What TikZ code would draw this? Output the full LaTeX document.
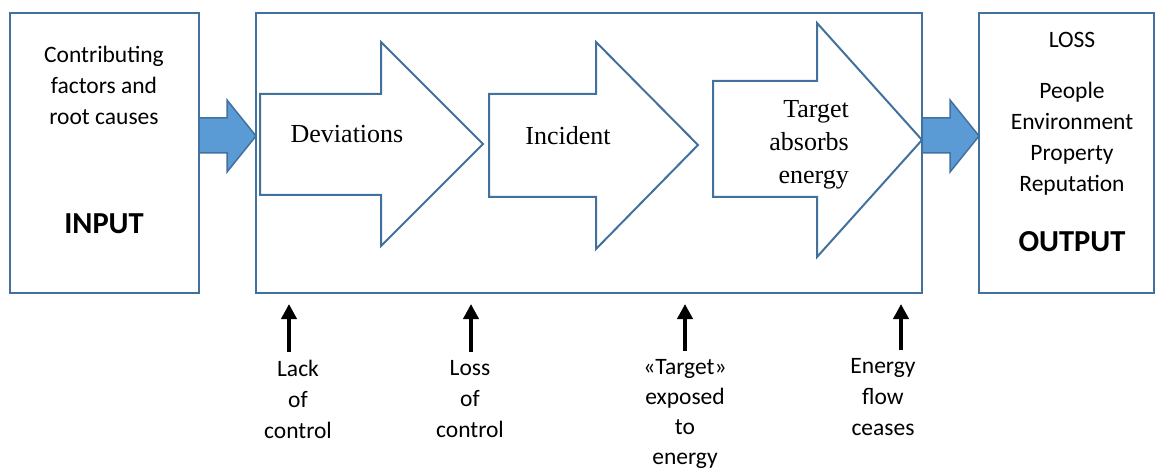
\documentclass[tikz,border=0pt]{standalone}
\usepackage{fontspec}
\setmainfont{Carlito}
\newfontfamily\serfont{Liberation Serif}
\usetikzlibrary{arrows.meta,positioning}
\definecolor{lineblue}{HTML}{41719C}
\definecolor{fillblue}{HTML}{5B9BD5}
\tikzset{
  box/.style={draw=lineblue,line width=2pt,rectangle,inner sep=0},
  blockarrow/.style={draw=lineblue,line width=2pt,fill=white,line join=miter},
  flowarrow/.style={draw=lineblue,line width=1.5pt,fill=fillblue,line join=miter},
  sanslabel/.style={font=\fontsize{23.5}{31}\selectfont,align=center,inner sep=0},
  biglabel/.style={font=\fontsize{30.5}{36}\selectfont\bfseries,inner sep=0},
  serlabel/.style={font=\serfont\fontsize{26}{33}\selectfont,inner sep=0},
  barrierlabel/.style={sanslabel,anchor=north,inner ysep=3pt},
  uparrow/.style={line width=4.5pt,shorten <=5pt,-{Triangle[width=15pt,length=15pt]}},
}
\begin{document}
\begin{tikzpicture}[x=1pt,y=-1pt]
        \useasboundingbox (0,0) rectangle (1155,470);
        % boxes
        \node[box,minimum width=189pt,minimum height=280pt] (input) at (104.5,153) {};
        \node[box,minimum width=666pt,minimum height=280pt] (process) at (589,153) {};
        \node[box,minimum width=175pt,minimum height=280pt] (output) at (1066.5,153) {};
        \node[sanslabel] (causes) at (104,85) {Contributing\\factors and\\root causes};
        \node[biglabel] (inlabel) at (104,224) {INPUT};
        \node[sanslabel] (loss) at (1072,40) {LOSS};
        \node[sanslabel] (losstypes) at (1072,139) {People\\Environment\\Property\\Reputation};
        \node[biglabel] (outlabel) at (1072,242) {OUTPUT};
        % flow in and out
        \draw[flowarrow] (199,118) -- (227,118) -- (227,100) -- (256,136) -- (227,172) -- (227,153) -- (199,153) -- cycle;
        \draw[flowarrow] (922,118) -- (950,118) -- (950,100) -- (979,136) -- (950,172) -- (950,153) -- (922,153) -- cycle;
        % sequence
        \draw[blockarrow] (260,94) -- (381,94) -- (381,42) -- (483,144) -- (381,246) -- (381,195) -- (260,195) -- cycle;
        \draw[blockarrow] (489,94) -- (596,94) -- (596,42) -- (698,145) -- (596,249) -- (596,197) -- (489,197) -- cycle;
        \draw[blockarrow] (713,81) -- (817,81) -- (817,23) -- (922,140) -- (817,257) -- (817,197) -- (713,197) -- cycle;
        \node[serlabel] (dev) at (347,134) {Deviations};
        \node[serlabel] (inc) at (568,136) {Incident};
        \node[serlabel,align=right,anchor=east] (tgt) at (849,145) {Target\\absorbs\\energy};
        % barriers
        \node[barrierlabel] (lack) at (298,357) {Lack\\of\\control};
        \node[barrierlabel] (losscontrol) at (470,357) {Loss\\of\\control};
        \node[barrierlabel,font=\fontsize{23.5}{30}\selectfont] (exposed) at (685,356) {«Target»\\exposed\\to\\energy};
        \node[barrierlabel] (ceases) at (883,355) {Energy\\flow\\ceases};
        \coordinate (b1) at (289,304);
        \coordinate (b2) at (471,304);
        \coordinate (b3) at (685,304);
        \coordinate (b4) at (901,304);
        \draw[uparrow] (lack.north -| b1) -- (b1);
        \draw[uparrow] (losscontrol.north -| b2) -- (b2);
        \draw[uparrow] (exposed.north -| b3) -- (b3);
        \draw[uparrow] (ceases.north -| b4) -- (b4);
    \end{tikzpicture}
\end{document}
